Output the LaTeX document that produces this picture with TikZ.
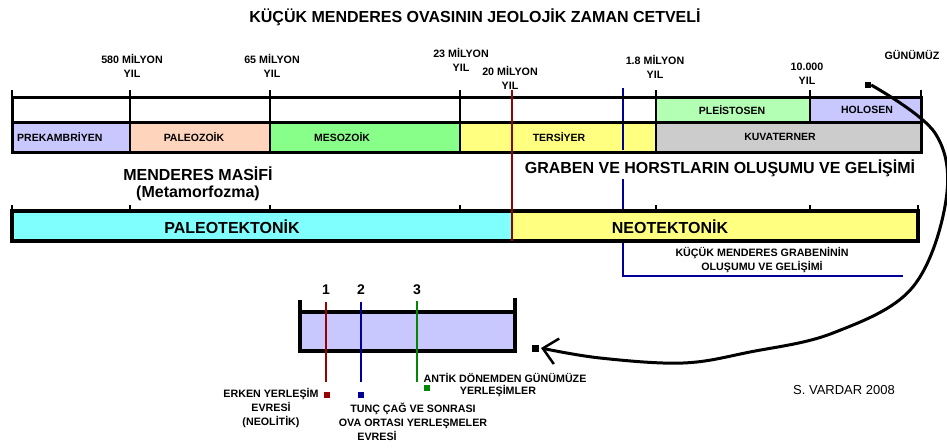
\documentclass[tikz,border=0pt]{standalone}
\usepackage{fontspec}
\setmainfont{Liberation Sans}
\usetikzlibrary{arrows.meta}
\definecolor{lav}{HTML}{C8C8FF}
\definecolor{peach}{HTML}{FFD4BC}
\definecolor{meso}{HTML}{88FF88}
\definecolor{ters}{HTML}{FFFF80}
\definecolor{kuva}{HTML}{CCCCCC}
\definecolor{pleis}{HTML}{B3FFB3}
\definecolor{paleo}{HTML}{80FFFF}
\definecolor{redl}{HTML}{990000}
\definecolor{bluel}{HTML}{000099}
\definecolor{greenl}{HTML}{008800}
\tikzset{
  lbl/.style={font=\bfseries\fontsize{10.7}{14}\selectfont, align=center, inner sep=0pt},
  cell/.style={font=\bfseries\fontsize{10.5}{12}\selectfont, inner sep=0pt},
  big/.style={font=\bfseries\fontsize{16}{17}\selectfont, align=center, inner sep=0pt},
  num/.style={font=\bfseries\fontsize{14}{16}\selectfont, inner sep=0pt},
  frame/.style={line width=3pt},
  divider/.style={line width=2pt},
  tick/.style={line width=1.5pt},
  marker/.style={fill=black, minimum size=6pt, inner sep=0pt},
}
\begin{document}
\begin{tikzpicture}[x=1pt,y=-1pt]
\useasboundingbox (0,0) rectangle (947,447);
% title
\node[font=\bfseries\fontsize{16}{18}\selectfont, inner sep=0pt] (title) at (475,17) {KÜÇÜK MENDERES OVASININ JEOLOJİK ZAMAN CETVELİ};
% time labels
\node[lbl] (t580) at (132,66) {580 MİLYON\\YIL};
\node[lbl] (t65) at (272,66) {65 MİLYON\\YIL};
\node[lbl] (t23) at (461,59.5) {23 MİLYON\\YIL};
\node[lbl] (t20) at (510,78) {20 MİLYON\\YIL};
\node[lbl] (t18) at (655,66.5) {1.8 MİLYON\\YIL};
\node[lbl] (t10) at (807,74) {10.000\\YIL};
\node[lbl] (tnow) at (912,55) {GÜNÜMÜZ};
% timeline fills
\fill[pleis] (656,97) rectangle (810,122);
\fill[lav] (810,97) rectangle (921,122);
\fill[lav] (12,122) rectangle (130,152);
\fill[peach] (130,122) rectangle (270,152);
\fill[meso] (270,122) rectangle (460,152);
\fill[ters] (460,122) rectangle (656,152);
\fill[kuva] (656,122) rectangle (921,152);
% blue line (upper part)
\draw[bluel, line width=2pt] (623,88) -- (623,150);
% timeline frame
\draw[frame] (12,97) rectangle (921,152);
\draw[frame] (12,122) -- (921,122);
\foreach \x in {130,270,460,656,810} \draw[divider] (\x,97) -- (\x,122);
\foreach \x in {130,270,460,656} \draw[divider] (\x,122) -- (\x,152);
\foreach \x in {12,130,270,460,656,810,921} \draw[divider] (\x,90) -- (\x,97);
% cell labels
\node[cell, anchor=west] (prek) at (17,137) {PREKAMBRİYEN};
\node[cell] (paleoz) at (194,137) {PALEOZOİK};
\node[cell] (mesoz) at (342,137) {MESOZOİK};
\node[cell] (tersiyer) at (559,137) {TERSİYER};
\node[cell] (kuvaterner) at (780,137) {KUVATERNER};
\node[cell] (pleistosen) at (732,110) {PLEİSTOSEN};
\node[cell] (holosen) at (867,110) {HOLOSEN};
% middle texts
\node[big] (masif) at (198,183.5) {MENDERES MASİFİ\\(Metamorfozma)};
\node[big] (graben) at (720,168) {GRABEN VE HORSTLARIN OLUŞUMU VE GELİŞİMİ};
% blue line lower part
\draw[bluel, line width=2pt] (623,179) -- (623,276) -- (903,276);
% tectonic bar
\fill[paleo] (12,211) rectangle (512,241);
\fill[ters] (512,211) rectangle (918,241);
\draw[line width=3.5pt] (12,211) rectangle (918,241);
\foreach \x in {12,130,270,460,656,810,918} \draw[tick] (\x,205) -- (\x,211);
\node[big] (paleot) at (232,227) {PALEOTEKTONİK};
\node[big] (neot) at (670,227) {NEOTEKTONİK};
% red line
\draw[redl, line width=2pt] (512,90) -- (512,241);
\node[lbl] (kmg) at (762,260) {KÜÇÜK MENDERES GRABENİNİN\\OLUŞUMU VE GELİŞİMİ};
% settlement box
\fill[lav] (300,312) rectangle (515,351);
\draw[line width=3.5pt] (300,312) -- (515,312);
\draw[line width=3.5pt, line join=miter] (300,300) -- (300,351) -- (515,351) -- (515,298);
\draw[redl, line width=2.5pt] (326,302) -- (326,382);
\draw[bluel, line width=2.5pt] (361,302) -- (361,382);
\draw[greenl, line width=2.5pt] (417,301) -- (417,382);
\node[num] (n1) at (326,290) {1};
\node[num] (n2) at (361,290) {2};
\node[num] (n3) at (417,290) {3};
\node[marker, fill=redl] (m1) at (327,395) {};
\node[marker, fill=bluel] (m2) at (361,395) {};
\node[marker, fill=greenl] (m3) at (427,388) {};
\node[lbl] (erken) at (271,408) {ERKEN YERLEŞİM\\EVRESİ\\(NEOLİTİK)};
\node[lbl] (tunc) at (413,422) {TUNÇ ÇAĞ VE SONRASI\\OVA ORTASI YERLEŞMELER\\EVRESİ\hspace*{72pt}};
\node[lbl, font=\bfseries\fontsize{10.7}{12.5}\selectfont] (antik) at (505,385) {ANTİK DÖNEMDEN GÜNÜMÜZE\\\hspace*{-14pt}YERLEŞİMLER};
\node[font=\fontsize{13}{15}\selectfont, inner sep=0pt] (vardar) at (844,390) {S. VARDAR 2008};
% markers and curved arrow
\node[marker] (sqTop) at (868,85) {};
\node[marker, minimum size=7pt] (sqBox) at (535,348) {};
\draw[line width=3pt, -{Straight Barb[length=14pt,width=26pt,line width=2.5pt]}]
  plot[smooth, tension=0.6] coordinates {(sqTop.east) (935,133) (946,200) (912,288) (833,333) (750,352) (683,363) (600,358) (541,348)};
\end{tikzpicture}
\end{document}
